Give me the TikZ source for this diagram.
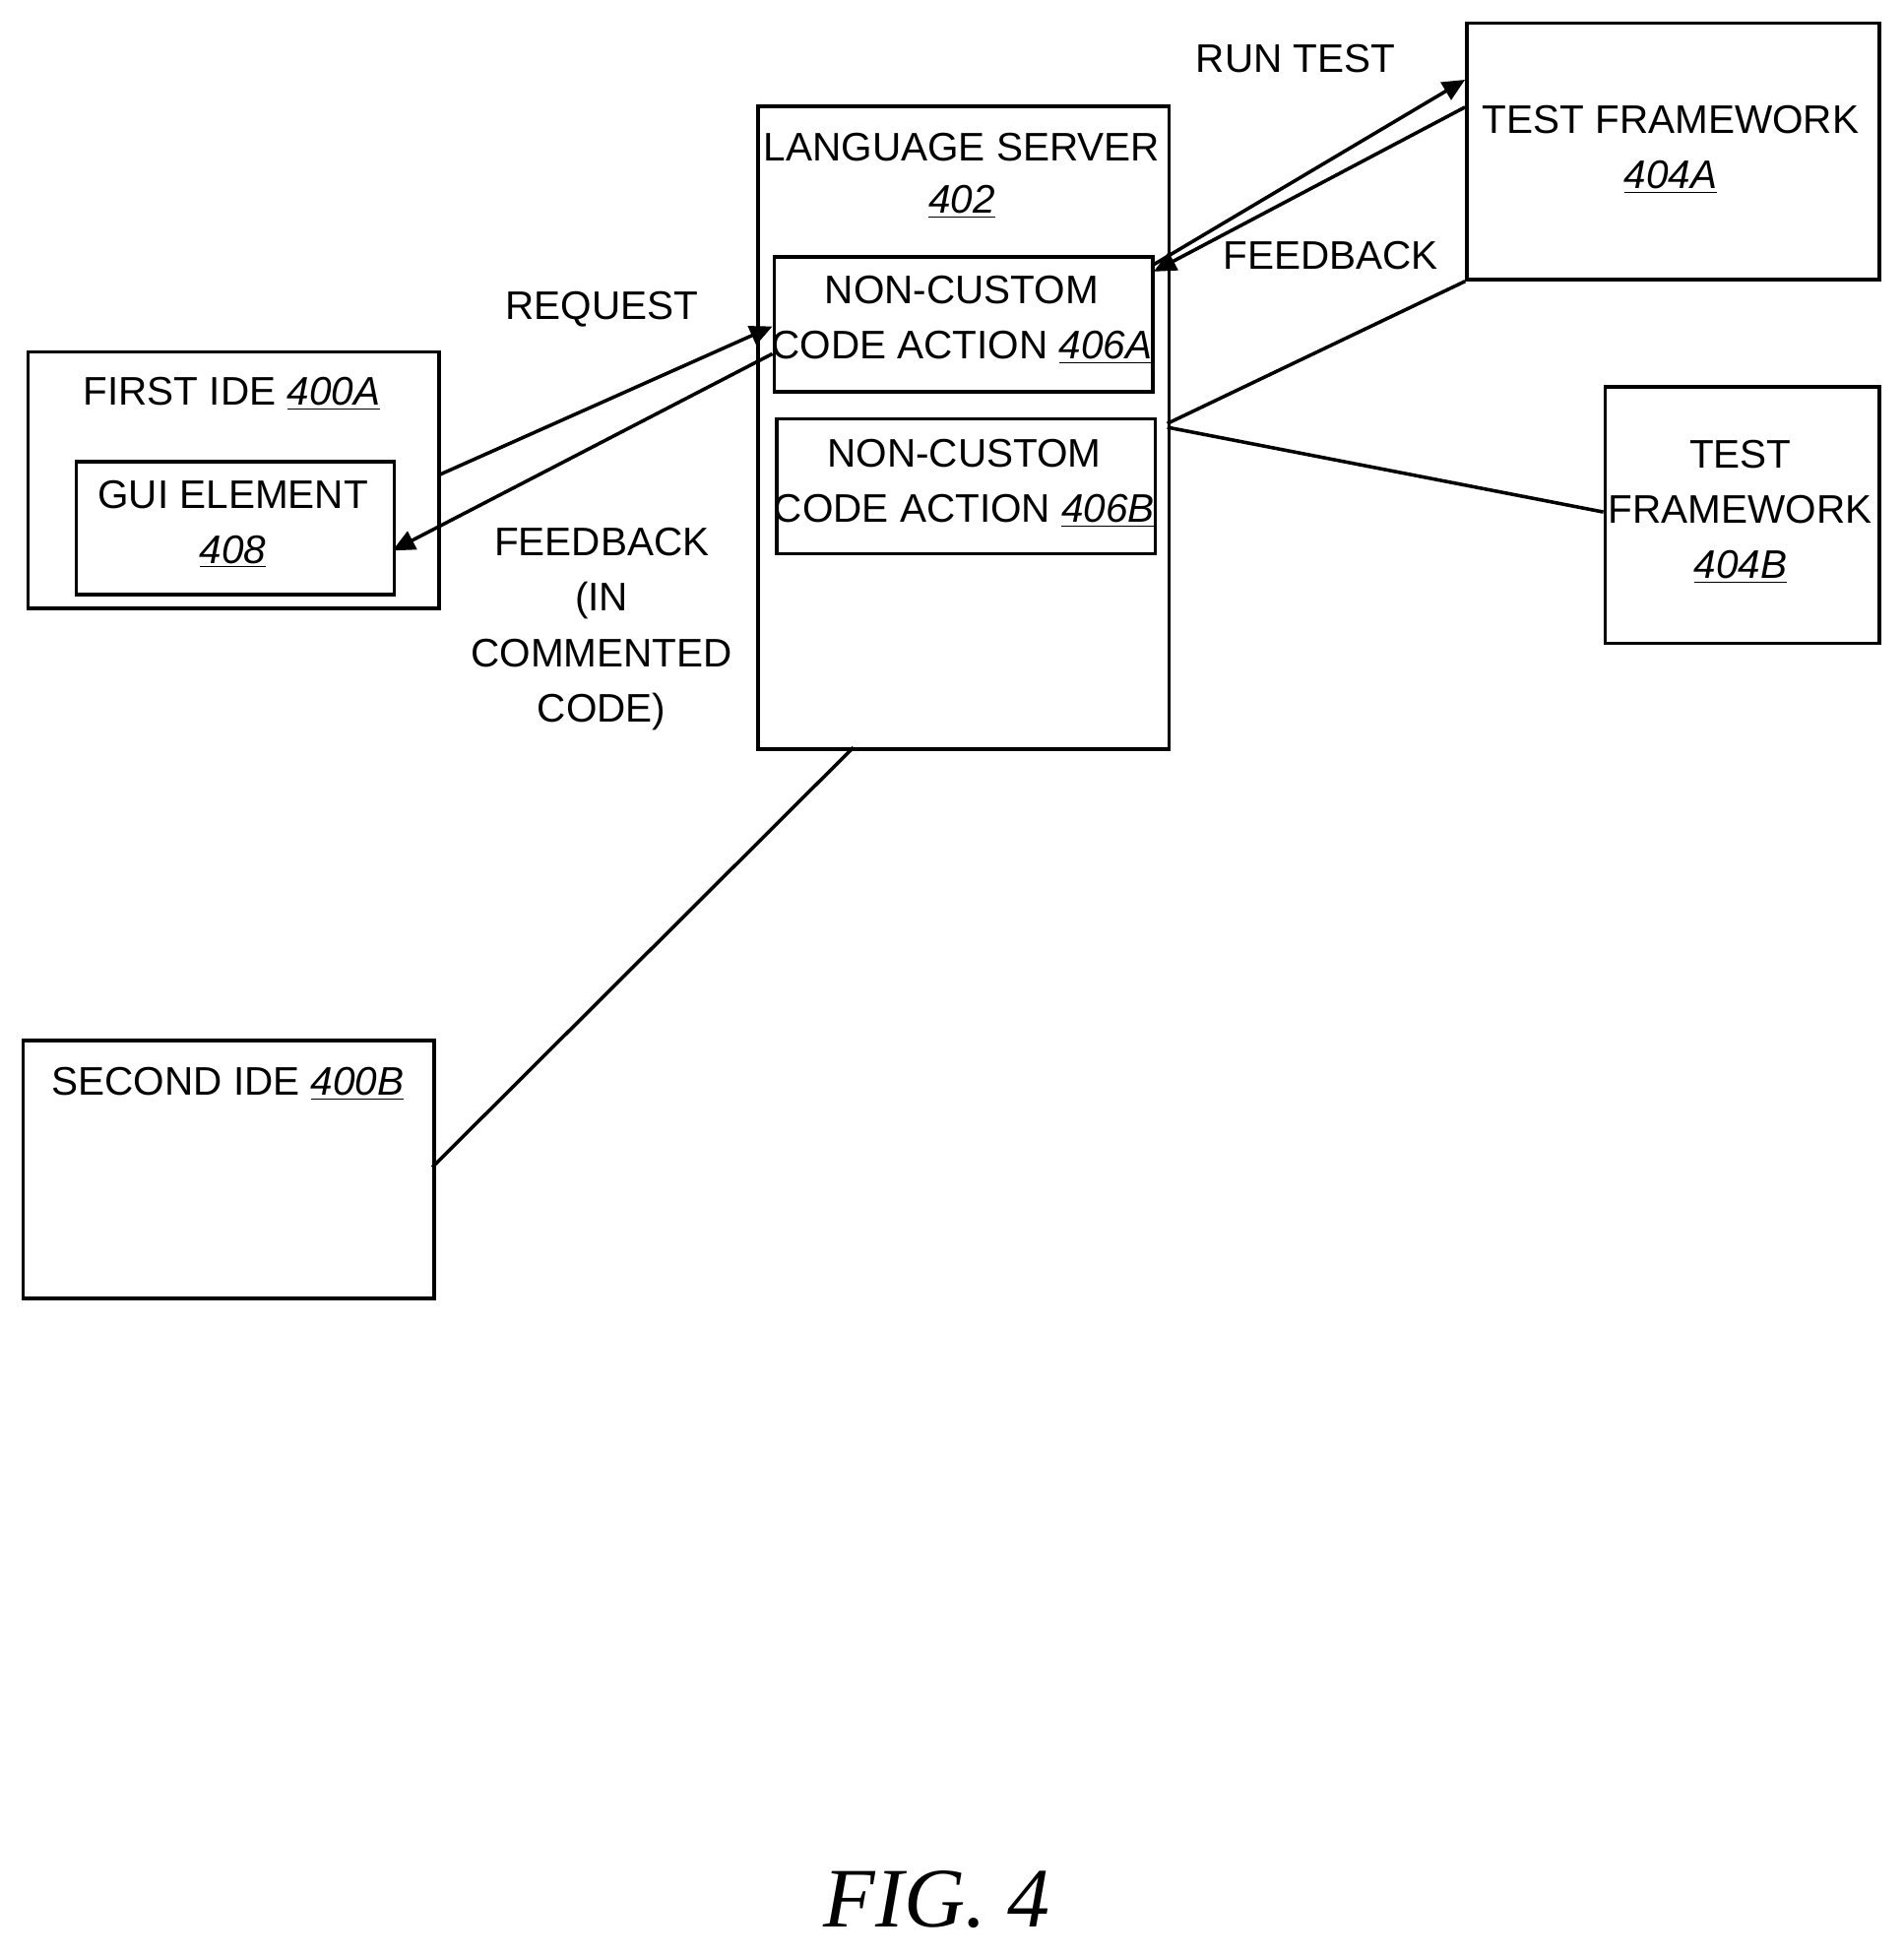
\documentclass[tikz,border=0pt]{standalone}
\usepackage{fontspec}
\setmainfont{Liberation Sans}
\newfontfamily\figfont{Liberation Serif}
\usetikzlibrary{arrows.meta}
\begin{document}
\begin{tikzpicture}[x=0.5pt,y=-0.5pt,
  box/.style={draw,line width=1.4pt,inner sep=0,anchor=north west},
  txt/.style={font=\fontsize{16}{22}\selectfont,align=center,inner sep=0},
  ln/.style={line width=1.4pt},
  ar/.style={line width=1.4pt,-{Triangle[length=9pt,width=8pt]}}]
\useasboundingbox (0,0) rectangle (1528,1571);
\node[box,minimum width=165pt,minimum height=258pt] (ls) at (607,84) {};
\node[txt] (lst) at (772,118) {LANGUAGE SERVER};
\node[txt] (lsn) at (772,162) {\underline{\itshape 402}};
\node[box,minimum width=152pt,minimum height=54pt] (a) at (620,205) {};
\node[txt] (at) at (772,257) {NON-CUSTOM\\CODE ACTION \underline{\itshape 406A}};
\node[box,minimum width=152pt,minimum height=54pt] (b) at (622,335) {};
\node[txt] (bt) at (774,388) {NON-CUSTOM\\CODE ACTION \underline{\itshape 406B}};
\node[box,minimum width=165pt,minimum height=103pt] (i1) at (21,281) {};
\node[txt] (i1t) at (186,316) {FIRST IDE \underline{\itshape 400A}};
\node[box,minimum width=127.5pt,minimum height=53.5pt] (g) at (60,369) {};
\node[txt] (gt) at (187,421) {GUI ELEMENT\\\underline{\itshape 408}};
\node[box,minimum width=165pt,minimum height=103.5pt] (i2) at (17,834) {};
\node[txt] (i2t) at (183,870) {SECOND IDE \underline{\itshape 400B}};
\node[box,minimum width=165.5pt,minimum height=103pt] (ta) at (1176,17) {};
\node[txt] (tat) at (1341,120) {TEST FRAMEWORK\\\underline{\itshape 404A}};
\node[box,minimum width=110pt,minimum height=103pt] (tb) at (1287,309) {};
\node[txt] (tbt) at (1397,411) {TEST\\FRAMEWORK\\\underline{\itshape 404B}};
\coordinate (r1) at (353,381); \coordinate (r2) at (620,262);
\coordinate (f1) at (620,284); \coordinate (f2) at (315,442);
\coordinate (t1) at (925,213); \coordinate (t2) at (1176,64);
\coordinate (k1) at (1176,86); \coordinate (k2) at (926,218);
\draw[ar] (r1) -- (r2);
\draw[ar] (f1) -- (f2);
\draw[ar] (t1) -- (t2);
\draw[ar] (k1) -- (k2);
\draw[ln] (937,340) -- (ta.south west);
\draw[ln] (937,343) -- (1287,411);
\draw[ln] (685,600) -- (347,937);
\node[txt] (l1) at (1040,47) {RUN TEST};
\node[txt] (l2) at (1068,205) {FEEDBACK};
\node[txt] (l3) at (483,248) {REQUEST};
\node[txt,font=\fontsize{16}{22.3}\selectfont] (l4) at (483,505) {FEEDBACK\\(IN\\COMMENTED\\CODE)};
\node[inner sep=0,font=\figfont\itshape\fontsize{34}{40}\selectfont] (fig) at (752,1525) {FIG. 4};
\end{tikzpicture}
\end{document}
